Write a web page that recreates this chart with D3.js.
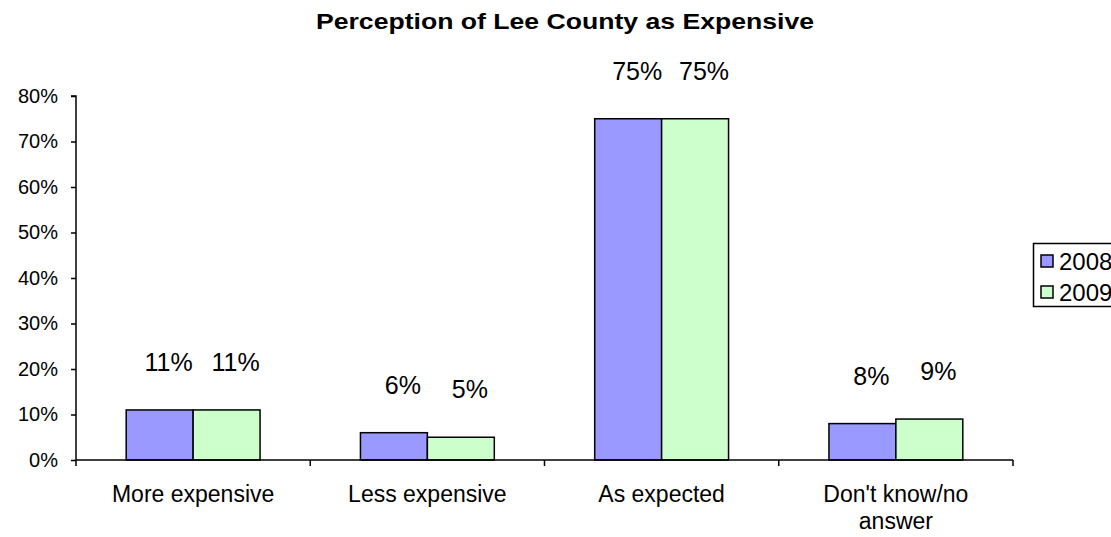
<!DOCTYPE html>
<html><head><meta charset="utf-8">
<script src="https://cdn.jsdelivr.net/npm/d3@7"></script>
<style>body{margin:0;background:#fff;} svg{display:block;font-family:"Liberation Sans",Arial,sans-serif;}</style>
</head><body><svg id="c" width="1111" height="537"></svg>
<script>
const categories = ["More expensive", "Less expensive", "As expected", "Don't know/no answer"];
const categoryLines = [["More expensive"], ["Less expensive"], ["As expected"], ["Don't know/no", "answer"]];
const seriesNames = ["2008", "2009"];
const values2008 = [11, 6, 75, 8];
const values2009 = [11, 5, 75, 9];
const yTicks = [0, 10, 20, 30, 40, 50, 60, 70, 80];
const colors = ["#9999FF", "#CCFFCC"];

const svg = d3.select("#c");
const m = {l: 76, r: 98, t: 96, b: 77};
const W = 1111, H = 537;
const x = d3.scaleBand().domain(categories).range([m.l, W - m.r]);
const y = d3.scaleLinear().domain([0, 80]).range([H - m.b, m.t]);
const gw = x.bandwidth() * (2 / 3.5);
const xs = d3.scaleBand().domain(seriesNames).range([0, gw]);

svg.append("text").attr("x", 565).attr("y", 29).attr("text-anchor", "middle")
  .attr("font-weight", "bold").attr("font-size", 22)
  .attr("textLength", 498).attr("lengthAdjust", "spacingAndGlyphs")
  .text("Perception of Lee County as Expensive");

const series = [values2008, values2009];
series.forEach((vals, si) => {
  const g = svg.append("g");
  g.selectAll("rect").data(vals).enter().append("rect")
    .attr("x", (d, i) => x(categories[i]) + (x.bandwidth() - gw) / 2 + xs(seriesNames[si]))
    .attr("y", d => y(d)).attr("width", xs.bandwidth()).attr("height", d => y(0) - y(d))
    .attr("fill", colors[si]).attr("stroke", "#000").attr("stroke-width", 1.5);
  g.selectAll("text").data(vals).enter().append("text")
    .attr("x", (d, i) => x(categories[i]) + (x.bandwidth() - gw) / 2 + xs(seriesNames[si]) + xs.bandwidth() / 2 + 9)
    .attr("y", d => y(d) - 39).attr("text-anchor", "middle").attr("font-size", 25)
    .text(d => d + "%");
});

// y axis
const ya = svg.append("g").attr("transform", `translate(${m.l},0)`)
  .call(d3.axisLeft(y).tickValues(yTicks).tickFormat(d => d + "%").tickSize(5).tickPadding(13));
ya.select(".domain").attr("stroke-width", 1.5).attr("d", `M-5,${y(80)}H0V${y(0)}`);
ya.selectAll(".tick line").attr("stroke-width", 1.5);
ya.selectAll(".tick text").attr("font-size", 20).attr("fill", "#000").attr("font-family", "Liberation Sans, Arial, sans-serif");

// x axis
const xa = svg.append("g").attr("transform", `translate(0,${y(0)})`);
xa.append("line").attr("x1", m.l).attr("x2", W - m.r).attr("stroke", "#000").attr("stroke-width", 1.5);
const bounds = categories.map(c => x(c)).concat([x(categories[categories.length - 1]) + x.bandwidth()]);
xa.selectAll("line.t").data(bounds).enter().append("line").attr("class", "t")
  .attr("x1", d => d).attr("x2", d => d).attr("y1", 0).attr("y2", 6).attr("stroke", "#000").attr("stroke-width", 1.5);
categories.forEach((c, i) => {
  const t = xa.append("text").attr("text-anchor", "middle").attr("font-size", 23);
  categoryLines[i].forEach((ln, j) => {
    t.append("tspan").attr("x", x(c) + x.bandwidth() / 2).attr("y", 42 + j * 27).text(ln);
  });
});

// legend
const lg = svg.append("g");
lg.append("rect").attr("x", 1033.5).attr("y", 243.5).attr("width", 90).attr("height", 63)
  .attr("fill", "#fff").attr("stroke", "#000").attr("stroke-width", 1.5);
seriesNames.forEach((s, i) => {
  lg.append("rect").attr("x", 1041).attr("y", 255 + i * 31).attr("width", 12).attr("height", 12)
    .attr("fill", colors[i]).attr("stroke", "#000").attr("stroke-width", 1.5);
  lg.append("text").attr("x", 1059).attr("y", 270 + i * 31).attr("font-size", 24).text(s);
});
</script></body></html>
